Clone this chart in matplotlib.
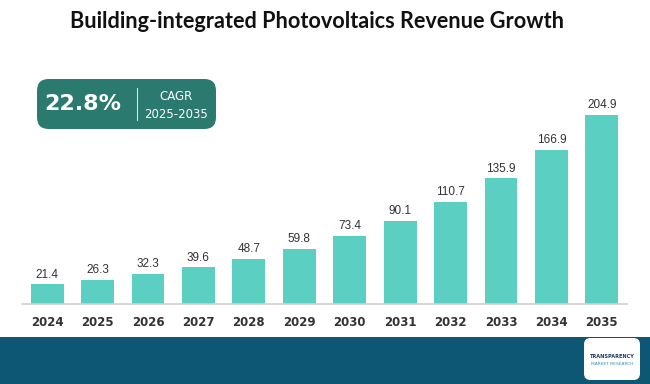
import matplotlib
matplotlib.use("Agg")
import matplotlib.pyplot as plt
from matplotlib.patches import FancyBboxPatch, Rectangle

# Chart data
years = ["2024", "2025", "2026", "2027", "2028", "2029",
         "2030", "2031", "2032", "2033", "2034", "2035"]
revenue = [21.4, 26.3, 32.3, 39.6, 48.7, 59.8, 73.4, 90.1, 110.7, 135.9, 166.9, 204.9]
cagr_value = "22.8%"
cagr_label = "CAGR"
cagr_period = "2025-2035"
title = "Building-integrated Photovoltaics Revenue Growth"

W, H = 650, 384
BAR_COLOR = "#5ccfc3"
BOX_COLOR = "#2b7a6f"
BAND_COLOR = "#0d5674"

fig = plt.figure(figsize=(W / 100, H / 100), dpi=100)
fig.patch.set_facecolor("white")


def fx(px):
    return px / W


def fy(py):
    return 1 - py / H


# main bar axes, placed in pixel terms
ax_left, ax_right, ax_bottom, ax_top = 22, 627, 304, 73
ax = fig.add_axes([fx(ax_left), fy(ax_bottom), fx(ax_right - ax_left), (ax_bottom - ax_top) / H])
x = range(len(years))
bars = ax.bar(x, revenue, width=0.65, color=BAR_COLOR, zorder=2)
ax.set_xlim(-0.5, len(years) - 0.5)
ax.set_ylim(0, 250)
for rect, val in zip(bars, revenue):
    ax.text(rect.get_x() + rect.get_width() / 2, val + 4, f"{val:.1f}",
            ha="center", va="bottom", fontsize=8.5, color="#333333",
            family="Liberation Sans")
ax.set_xticks(list(x))
ax.set_xticklabels(years, fontsize=8.5, fontweight="bold", color="#333333")
ax.tick_params(axis="x", length=0, pad=9)
ax.set_yticks([])
for side in ["top", "right", "left"]:
    ax.spines[side].set_visible(False)
ax.spines["bottom"].set_color("#d0d0d0")
ax.spines["bottom"].set_linewidth(1.2)
ax.set_facecolor("none")

# title
fig.text(0.487, fy(22), title, ha="center", va="center", fontsize=15.6,
         fontweight="bold", family="Lato", color="#111111")

# CAGR box
box = FancyBboxPatch((fx(37), fy(129)), fx(216 - 37), (129 - 79) / H,
                     boxstyle="round,pad=0,rounding_size=0.018",
                     transform=fig.transFigure, facecolor=BOX_COLOR,
                     edgecolor="none", mutation_aspect=W / H)
fig.patches.append(box)
fig.text(fx(83), fy(104), cagr_value, ha="center", va="center", fontsize=16,
         fontweight="bold", color="white")
fig.add_artist(plt.Line2D([fx(137), fx(137)], [fy(88), fy(120)],
                          transform=fig.transFigure, color="#cfe6e2", lw=0.8))
fig.text(fx(176), fy(96), cagr_label, ha="center", va="center", fontsize=8.5, color="white")
fig.text(fx(176), fy(114), cagr_period, ha="center", va="center", fontsize=8.5, color="white")

# bottom band with logo
fig.patches.append(Rectangle((0, 0), 1, (H - 337) / H, transform=fig.transFigure,
                             facecolor=BAND_COLOR, edgecolor="none"))
logo = FancyBboxPatch((fx(584), fy(380)), fx(56), (380 - 338) / H,
                      boxstyle="round,pad=0,rounding_size=0.01",
                      transform=fig.transFigure, facecolor="white",
                      edgecolor="none", mutation_aspect=W / H)
fig.patches.append(logo)
fig.text(fx(612), fy(357), "TRANSPARENCY", ha="center", va="center",
         fontsize=3.6, fontweight="bold", color="#1d3c5a")
fig.text(fx(612), fy(364), "MARKET RESEARCH", ha="center", va="center",
         fontsize=3.2, color="#3a8fb0")

fig.savefig("out.png", dpi=100)
